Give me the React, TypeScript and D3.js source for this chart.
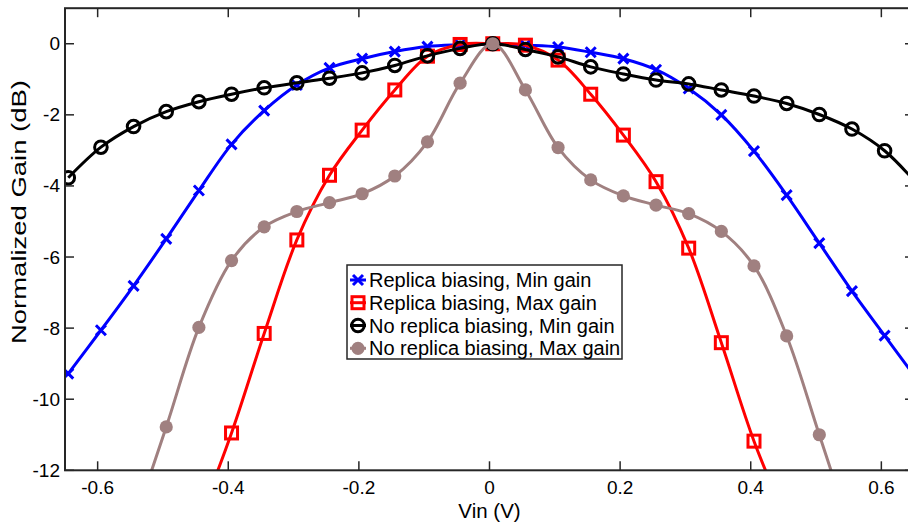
import React from "react";
import * as d3 from "d3";

const W = 908;
const H = 527;

// x positions of samples (V)
const xAll = d3.range(27).map((i) => +(-0.645 + 0.05 * i).toFixed(3));

const blueY = [-9.28, -8.06, -6.81, -5.49, -4.13, -2.83, -1.88, -1.16, -0.68, -0.42, -0.22, -0.08, -0.03, 0, -0.04, -0.09, -0.24, -0.42, -0.73, -1.26, -2.0, -3.02, -4.26, -5.61, -6.96, -8.21, -9.45];
const blackY = [-3.77, -2.91, -2.33, -1.91, -1.63, -1.42, -1.24, -1.1, -0.97, -0.82, -0.61, -0.34, -0.13, 0, -0.16, -0.37, -0.65, -0.85, -1.02, -1.13, -1.3, -1.47, -1.68, -1.99, -2.4, -3.01, -3.95];
// red: x from -0.445 to 0.455
const redX = xAll.slice(4, 23);
const redY = [-13.4, -10.95, -8.15, -5.52, -3.7, -2.43, -1.3, -0.35, -0.02, 0, -0.04, -0.46, -1.42, -2.57, -3.88, -5.75, -8.41, -11.18, -13.4];
// brown: x from -0.545 to 0.555
const brownX = xAll.slice(2, 25);
const brownY = [-13.5, -10.78, -7.98, -6.1, -5.15, -4.72, -4.47, -4.22, -3.72, -2.76, -1.11, 0, -1.3, -2.92, -3.83, -4.28, -4.54, -4.78, -5.28, -6.25, -8.22, -11.0, -13.8];

const xTicks = [-0.6, -0.4, -0.2, 0, 0.2, 0.4, 0.6];
const yTicks = [-12, -10, -8, -6, -4, -2, 0];

const legendLabels = [
  "Replica biasing, Min gain",
  "Replica biasing, Max gain",
  "No replica biasing, Min gain",
  "No replica biasing, Max gain",
];

const BLUE = "#0000ff";
const RED = "#ff0000";
const BLACK = "#000000";
const BROWN = "#a08080";

const left = 65, right = 914, top = 8.2, bottom = 470.3;
const x = d3.scaleLinear().domain([-0.65, 0.65]).range([left, right]);
const y = d3.scaleLinear().domain([-12, 1]).range([bottom, top]);

const line = d3
  .line<[number, number]>()
  .x((d) => x(d[0]))
  .y((d) => y(d[1]))
  .curve(d3.curveCatmullRom.alpha(0.5));

const zip = (xs: number[], ys: number[]) => xs.map((v, i) => [v, ys[i]] as [number, number]);

function Marker({ kind, cx, cy }: { kind: number; cx: number; cy: number }) {
  if (kind === 0) {
    const s = 5;
    return (
      <path d={`M${cx - s},${cy - s}L${cx + s},${cy + s}M${cx - s},${cy + s}L${cx + s},${cy - s}`} stroke={BLUE} strokeWidth={3} fill="none" />
    );
  }
  if (kind === 1) {
    const s = 6;
    return <rect x={cx - s} y={cy - s} width={2 * s} height={2 * s} stroke={RED} strokeWidth={3} fill="none" />;
  }
  if (kind === 2) {
    return <circle cx={cx} cy={cy} r={6.3} stroke={BLACK} strokeWidth={3} fill="none" />;
  }
  return <circle cx={cx} cy={cy} r={6.6} fill={BROWN} stroke="none" />;
}

const series = [
  { xs: xAll, ys: blueY, color: BLUE },
  { xs: redX, ys: redY, color: RED },
  { xs: xAll, ys: blackY, color: BLACK },
  { xs: brownX, ys: brownY, color: BROWN },
];

export default function App() {
  const font = "'Liberation Sans', Arial, Helvetica, sans-serif";
  const tl = 9;
  const lx = 347, ly = 265, lw = 275, lh = 94;
  const rowY = [280, 302.7, 325.5, 348.3];
  return (
    <div style={{ position: "absolute", left: 0, top: 0 }}>
      <svg width={W} height={H} style={{ display: "block", background: "#fff" }} fontFamily={font}>
        <defs>
          <clipPath id="plot">
            <rect x={left} y={top} width={right - left} height={bottom - top} />
          </clipPath>
        </defs>
        <rect x={0} y={0} width={W} height={H} fill="#fff" />
        <g clipPath="url(#plot)">
          {series.map((s, i) => (
            <g key={i}>
              <path d={line(zip(s.xs, s.ys)) || ""} stroke={s.color} strokeWidth={3} fill="none" />
              {s.xs.map((xv, j) => (
                <Marker key={j} kind={i} cx={x(xv)} cy={y(s.ys[j])} />
              ))}
            </g>
          ))}
        </g>
        {/* axes box */}
        <rect x={left} y={top} width={right - left} height={bottom - top} fill="none" stroke="#262626" strokeWidth={2} />
        {xTicks.map((t) => (
          <g key={t}>
            <line x1={x(t)} x2={x(t)} y1={bottom} y2={bottom - tl} stroke="#262626" strokeWidth={1.5} />
            <line x1={x(t)} x2={x(t)} y1={top} y2={top + tl} stroke="#262626" strokeWidth={1.5} />
            <text x={x(t)} y={494} fontSize={19} textAnchor="middle" fill="#000">
              {t === 0 ? "0" : d3.format(".1f")(t).replace("−", "-")}
            </text>
          </g>
        ))}
        {yTicks.map((t) => (
          <g key={t}>
            <line x1={left} x2={left + tl} y1={y(t)} y2={y(t)} stroke="#262626" strokeWidth={1.5} />
            <line x1={right} x2={right - tl} y1={y(t)} y2={y(t)} stroke="#262626" strokeWidth={1.5} />
            <text x={60} y={y(t) + 6.5} fontSize={19} textAnchor="end" fill="#000">
              {String(t)}
            </text>
          </g>
        ))}
        <text x={489.5} y={518} fontSize={20.5} textAnchor="middle" fill="#000">
          Vin (V)
        </text>
        <text
          transform={`translate(26, 212) rotate(-90)`}
          fontSize={21}
          textAnchor="middle"
          fill="#000"
          textLength={264}
          lengthAdjust="spacingAndGlyphs"
        >
          Normalized Gain (dB)
        </text>
        {/* legend */}
        <rect x={lx} y={ly} width={lw} height={lh} fill="#fff" stroke="#262626" strokeWidth={1.5} />
        {legendLabels.map((lab, i) => (
          <g key={lab}>
            <line x1={350} x2={366} y1={rowY[i]} y2={rowY[i]} stroke={series[i].color} strokeWidth={3} />
            <Marker kind={i} cx={358} cy={rowY[i]} />
            <text x={369} y={rowY[i] + 7} fontSize={20} fill="#000">
              {lab}
            </text>
          </g>
        ))}
      </svg>
    </div>
  );
}
